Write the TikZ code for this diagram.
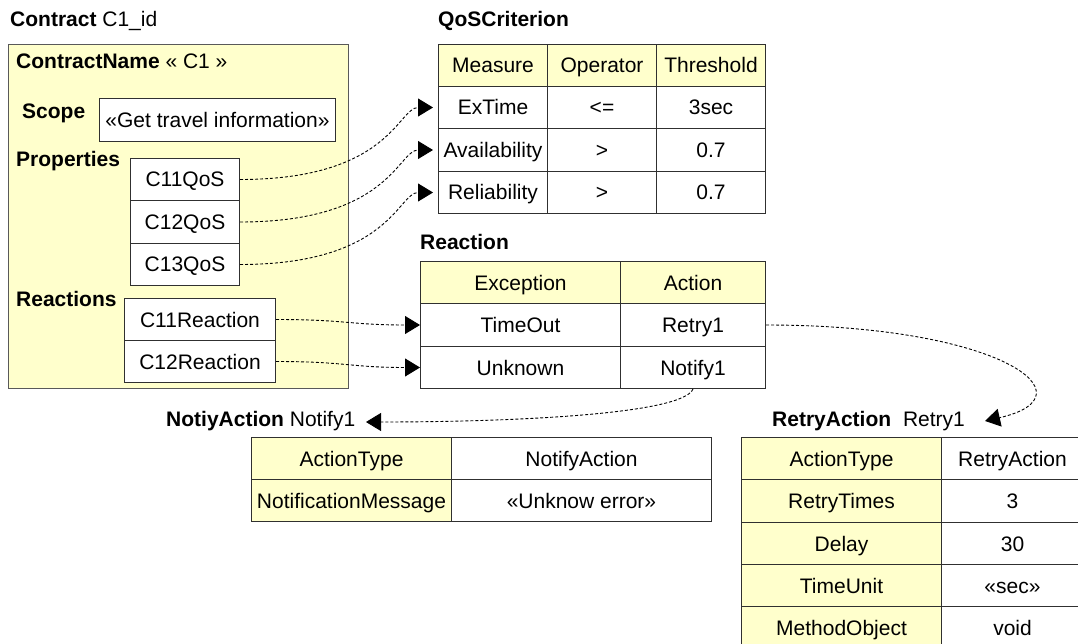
\documentclass[tikz,border=0pt]{standalone}
\usepackage{fontspec}
\setmainfont{Liberation Sans}
\usetikzlibrary{arrows.meta}
\definecolor{yel}{HTML}{FFFFCC}
\definecolor{lc}{HTML}{303030}
\begin{document}
\begin{tikzpicture}[x=1pt,y=-1pt,
  every node/.style={font=\fontsize{21}{24}\selectfont},
  sz/.style 2 args={minimum width=#1pt, minimum height=#2pt},
  cell/.style={draw=lc, line width=1pt, fill=white, inner sep=0pt, anchor=north west, text height=15pt, text depth=0pt},
  hcell/.style={cell, fill=yel},
  lbl/.style={anchor=base west, inner sep=0pt},
  conn/.style={draw=black, line width=0.9pt, dash pattern=on 3pt off 2pt, -{Triangle[length=15pt,width=18pt]}}]
\useasboundingbox (0,0) rectangle (1078,644);
\clip (0,0) rectangle (1078,644);
% Contract
\node[lbl] (tcontract) at (10,27) {\textbf{Contract} C1\_id};
\node[hcell, draw=lc!80, sz={340}{344}] (cbox) at (8,44) {};
\node[lbl] (cname) at (16,69) {\textbf{ContractName} « C1 »};
\node[lbl] (scope) at (22,119) {\textbf{Scope}};
\node[cell, sz={236}{43}] (scopebox) at (99,98) {«Get travel information»};
\node[lbl] (props) at (16,167) {\textbf{Properties}};
\node[cell, sz={109}{42}] (c11) at (130,158) {C11QoS};
\node[cell, sz={109}{43}] (c12) at (130,200) {C12QoS};
\node[cell, sz={109}{42}] (c13) at (130,243) {C13QoS};
\node[lbl] (reacts) at (16,306) {\textbf{Reactions}};
\node[cell, sz={151}{42}] (r11) at (124,298) {C11Reaction};
\node[cell, sz={151}{42}] (r12) at (124,340) {C12Reaction};
% QoSCriterion
\node[lbl] (tqos) at (438,27) {\textbf{QoSCriterion}};
\node[hcell, sz={109}{42}] (qm) at (438,44) {Measure};
\node[hcell, sz={109}{42}] (qo) at (547,44) {Operator};
\node[hcell, sz={109}{42}] (qt) at (656,44) {Threshold};
\node[cell, sz={109}{42}] (q1m) at (438,86) {ExTime};
\node[cell, sz={109}{42}] (q1o) at (547,86) {<=};
\node[cell, sz={109}{42}] (q1t) at (656,86) {3sec};
\node[cell, sz={109}{43}] (q2m) at (438,128) {Availability};
\node[cell, sz={109}{43}] (q2o) at (547,128) {>};
\node[cell, sz={109}{43}] (q2t) at (656,128) {0.7};
\node[cell, sz={109}{42}] (q3m) at (438,171) {Reliability};
\node[cell, sz={109}{42}] (q3o) at (547,171) {>};
\node[cell, sz={109}{42}] (q3t) at (656,171) {0.7};
% Reaction
\node[lbl] (treact) at (420,250) {\textbf{Reaction}};
\node[hcell, sz={200}{42}] (rex) at (420,261) {Exception};
\node[hcell, sz={145}{42}] (rac) at (620,261) {Action};
\node[cell, sz={200}{43}] (re1) at (420,303) {TimeOut};
\node[cell, sz={145}{43}] (ra1) at (620,303) {Retry1};
\node[cell, sz={200}{42}] (re2) at (420,346) {Unknown};
\node[cell, sz={145}{42}] (ra2) at (620,346) {Notify1};
% NotiyAction
\node[lbl] (tnotify) at (166,426) {\textbf{NotiyAction} Notify1};
\node[hcell, sz={200}{42}] (n1k) at (251,437) {ActionType};
\node[cell, sz={260}{42}] (n1v) at (451,437) {NotifyAction};
\node[hcell, sz={200}{42}] (n2k) at (251,479) {NotificationMessage};
\node[cell, sz={260}{42}] (n2v) at (451,479) {«Unknow error»};
% RetryAction
\node[lbl] (tretry) at (772,426) {\textbf{RetryAction}\hspace{6pt} Retry1};
\node[hcell, sz={200}{42}] (t1k) at (741,437) {ActionType};
\node[cell, sz={142}{42}] (t1v) at (941,437) {RetryAction};
\node[hcell, sz={200}{43}] (t2k) at (741,479) {RetryTimes};
\node[cell, sz={142}{43}] (t2v) at (941,479) {3};
\node[hcell, sz={200}{42}] (t3k) at (741,522) {Delay};
\node[cell, sz={142}{42}] (t3v) at (941,522) {30};
\node[hcell, sz={200}{42}] (t4k) at (741,564) {TimeUnit};
\node[cell, sz={142}{42}] (t4v) at (941,564) {«sec»};
\node[hcell, sz={200}{42}] (t5k) at (741,606) {MethodObject};
\node[cell, sz={142}{42}] (t5v) at (941,606) {void};
% connector ends
\coordinate (retrytip) at (985,421);
\coordinate (notifytip) at (366,422);
% connectors
\draw[conn] (c11.east) .. controls +(150,0) and +(-35,0) .. ([xshift=-5pt]q1m.west);
\draw[conn] (c12.east) .. controls +(150,0) and +(-35,0) .. ([xshift=-5pt]q2m.west);
\draw[conn] (c13.east) .. controls +(150,0) and +(-35,0) .. ([xshift=-5pt]q3m.west);
\draw[conn] (r11.east) .. controls +(70,0) and +(-70,0) .. (re1.west);
\draw[conn] (r12.east) .. controls +(70,0) and +(-70,0) .. (re2.west);
\draw[conn] (ra1.east) .. controls +(235,0) and +(110,-25) .. (retrytip);
\draw[conn] (ra2.south) .. controls +(-10,25) and +(150,0) .. (notifytip);
\end{tikzpicture}
\end{document}
